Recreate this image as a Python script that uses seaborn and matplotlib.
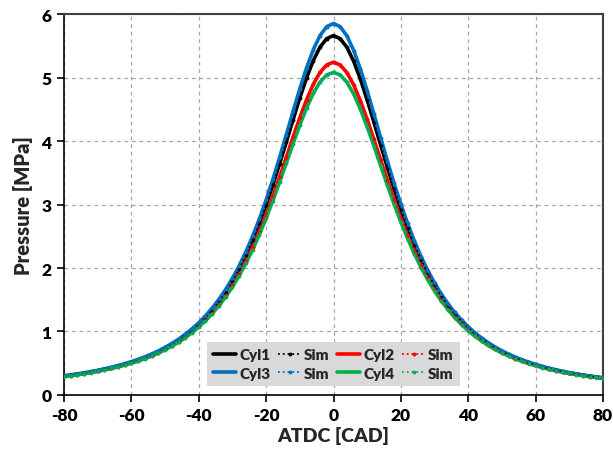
import matplotlib
matplotlib.use("Agg")
import matplotlib.pyplot as plt
import pandas as pd
import seaborn as sns

# Crank angle after top dead centre [deg], 2-degree resolution
atdc = list(range(-80, 82, 2))

# Measured cylinder pressures [MPa]
cyl1 = [0.298, 0.312, 0.327, 0.344, 0.363, 0.382, 0.405, 0.429, 0.455, 0.484,
        0.516, 0.551, 0.590, 0.633, 0.682, 0.736, 0.796, 0.862, 0.938, 1.022,
        1.115, 1.222, 1.342, 1.476, 1.627, 1.797, 1.989, 2.203, 2.441, 2.705,
        2.994, 3.307, 3.639, 3.985, 4.336, 4.678, 4.994, 5.267, 5.480, 5.614,
        5.660,
        5.612, 5.473, 5.254, 4.972, 4.646, 4.295, 3.935, 3.582, 3.243, 2.926,
        2.634, 2.369, 2.129, 1.916, 1.725, 1.556, 1.406, 1.274, 1.157, 1.053,
        0.960, 0.879, 0.807, 0.741, 0.684, 0.633, 0.587, 0.544, 0.507, 0.474,
        0.443, 0.416, 0.391, 0.368, 0.347, 0.329, 0.312, 0.296, 0.281, 0.268]

cyl2 = [0.293, 0.306, 0.322, 0.338, 0.356, 0.375, 0.397, 0.420, 0.446, 0.474,
        0.505, 0.539, 0.577, 0.619, 0.666, 0.718, 0.775, 0.839, 0.911, 0.992,
        1.081, 1.183, 1.297, 1.424, 1.567, 1.727, 1.907, 2.108, 2.330, 2.574,
        2.840, 3.127, 3.430, 3.745, 4.061, 4.367, 4.649, 4.893, 5.081, 5.200,
        5.240,
        5.198, 5.075, 4.881, 4.630, 4.339, 4.024, 3.700, 3.379, 3.069, 2.779,
        2.509, 2.263, 2.040, 1.840, 1.661, 1.501, 1.359, 1.233, 1.122, 1.023,
        0.934, 0.856, 0.787, 0.723, 0.668, 0.618, 0.574, 0.533, 0.497, 0.465,
        0.435, 0.408, 0.384, 0.361, 0.341, 0.323, 0.307, 0.291, 0.277, 0.264]

cyl3 = [0.303, 0.317, 0.333, 0.350, 0.369, 0.389, 0.412, 0.436, 0.463, 0.493,
        0.525, 0.561, 0.601, 0.645, 0.695, 0.750, 0.811, 0.879, 0.956, 1.042,
        1.138, 1.247, 1.370, 1.508, 1.663, 1.838, 2.035, 2.256, 2.502, 2.774,
        3.073, 3.397, 3.742, 4.102, 4.467, 4.823, 5.153, 5.439, 5.661, 5.802,
        5.850,
        5.800, 5.654, 5.425, 5.130, 4.790, 4.424, 4.050, 3.683, 3.331, 3.003,
        2.701, 2.427, 2.180, 1.960, 1.764, 1.590, 1.436, 1.300, 1.180, 1.074,
        0.979, 0.896, 0.822, 0.755, 0.696, 0.644, 0.597, 0.554, 0.516, 0.482,
        0.451, 0.423, 0.398, 0.374, 0.353, 0.334, 0.317, 0.301, 0.286, 0.272]

cyl4 = [0.291, 0.305, 0.320, 0.336, 0.354, 0.373, 0.395, 0.418, 0.443, 0.471,
        0.501, 0.535, 0.573, 0.614, 0.661, 0.712, 0.769, 0.832, 0.903, 0.982,
        1.070, 1.169, 1.281, 1.406, 1.546, 1.702, 1.878, 2.073, 2.288, 2.525,
        2.783, 3.060, 3.352, 3.653, 3.956, 4.249, 4.519, 4.750, 4.929, 5.042,
        5.080,
        5.040, 4.923, 4.739, 4.500, 4.222, 3.921, 3.610, 3.302, 3.004, 2.723,
        2.463, 2.224, 2.007, 1.812, 1.638, 1.481, 1.343, 1.219, 1.110, 1.013,
        0.925, 0.849, 0.780, 0.718, 0.663, 0.614, 0.570, 0.530, 0.494, 0.462,
        0.433, 0.406, 0.382, 0.360, 0.340, 0.322, 0.305, 0.290, 0.276, 0.263]

# Simulated pressures [MPa] (coincide with the measurements at this scale)
sim1 = list(cyl1)
sim2 = list(cyl2)
sim3 = list(cyl3)
sim4 = list(cyl4)

x_ticks = [-80, -60, -40, -20, 0, 20, 40, 60, 80]
y_ticks = [0, 1, 2, 3, 4, 5, 6]

sns.set_theme(style="ticks")
plt.rcParams["font.family"] = ["Lato", "DejaVu Sans"]
plt.rcParams["font.weight"] = "bold"
plt.rcParams["axes.unicode_minus"] = False

fig = plt.figure(figsize=(6.13, 4.52), dpi=100)
ax = fig.add_axes([0.1044, 0.1239, 0.8793, 0.8429])

measured = [("Cyl1", cyl1, "#000000"), ("Cyl2", cyl2, "#ff0000"),
            ("Cyl3", cyl3, "#0070c0"), ("Cyl4", cyl4, "#00b050")]
simulated = [("Sim1", sim1, "#000000"), ("Sim2", sim2, "#ff0000"),
             ("Sim3", sim3, "#0070c0"), ("Sim4", sim4, "#00b050")]

for name, vals, col in measured:
    df = pd.DataFrame({"atdc": atdc, "p": vals})
    sns.lineplot(data=df, x="atdc", y="p", ax=ax, color=col, linewidth=2.6,
                 estimator=None, sort=False, label=name, zorder=3)
for name, vals, col in simulated:
    df = pd.DataFrame({"atdc": atdc, "p": vals})
    sns.lineplot(data=df, x="atdc", y="p", ax=ax, color=col, linewidth=1.3,
                 linestyle=":", marker="o", markersize=2.8, markeredgewidth=0,
                 estimator=None, sort=False, label=name, zorder=4)

h, l = ax.get_legend_handles_labels()
lookup = dict(zip(l, h))
order = ["Cyl1", "Cyl3", "Sim1", "Sim3", "Cyl2", "Cyl4", "Sim2", "Sim4"]
shown = ["Cyl1", "Cyl3", "Sim", "Sim", "Cyl2", "Cyl4", "Sim", "Sim"]
leg = ax.legend([lookup[k] for k in order], shown, ncol=4, loc="lower center",
                bbox_to_anchor=(0.5, 0.012), frameon=True, fancybox=False,
                facecolor="#d9d9d9", edgecolor="none", framealpha=1,
                prop={"weight": "heavy", "size": 11}, handlelength=1.5,
                handletextpad=0.2, columnspacing=0.5, borderpad=0.4,
                labelspacing=0.35, borderaxespad=0.3)
leg.set_zorder(5)

ax.set_xlim(-80, 80)
ax.set_ylim(0, 6)
ax.set_xticks(x_ticks)
ax.set_yticks(y_ticks)
ax.grid(True, linestyle=(0, (3, 3)), color="#a6a6a6", linewidth=0.9)
ax.set_axisbelow(True)

for side in ["left", "bottom"]:
    ax.spines[side].set_color("black")
    ax.spines[side].set_linewidth(1.2)
for side in ["top", "right"]:
    ax.spines[side].set_color("#404040")
    ax.spines[side].set_linewidth(1.5)

ax.tick_params(axis="both", direction="out", length=5, width=1.2,
               labelsize=12.5, colors="black", pad=4)
for lab in ax.get_xticklabels() + ax.get_yticklabels():
    lab.set_fontweight("heavy")

ax.set_xlabel("ATDC [CAD]", fontsize=14, fontweight="heavy", labelpad=2)
ax.set_ylabel("Pressure [MPa]", fontsize=14.5, fontweight="heavy", labelpad=6)

fig.savefig("out.png", dpi=100)
